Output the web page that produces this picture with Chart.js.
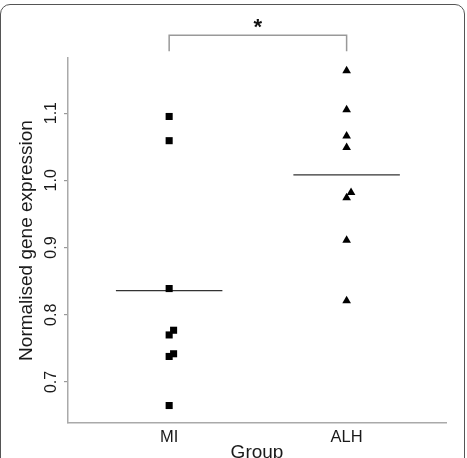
<!DOCTYPE html>
<html>
<head>
<meta charset="utf-8">
<script src="https://cdn.jsdelivr.net/npm/chart.js@4.4.1/dist/chart.umd.min.js"></script>
<style>
  html, body { margin: 0; padding: 0; background: #fff; overflow: hidden; }
  #wrap { position: relative; width: 467px; height: 458px; }
  #frame {
    position: absolute; left: 0; top: 4px; width: 463px; height: 500px;
    border: 1.5px solid #555; border-radius: 10px; pointer-events: none;
  }
</style>
</head>
<body>
<div id="wrap">
  <canvas id="chart" width="467" height="458"></canvas>
  <div id="frame"></div>
</div>
<script>
// values
const groups = ['MI', 'ALH'];
const groupX = [1, 2];
const miValues = [1.095, 1.059, 0.839, 0.777, 0.770, 0.742, 0.738, 0.665];
const miJitter = [0, 0, 0, 0.025, 0, 0.025, 0, 0];
const alhValues = [1.163, 1.105, 1.066, 1.049, 0.982, 0.974, 0.911, 0.821];
const alhJitter = [0, 0, 0, 0, 0.025, 0, 0, 0];
const groupMeans = [0.836, 1.008];
const yTickValues = [0.7, 0.8, 0.9, 1.0, 1.1];
const bracketY = [1.192, 1.216];
const significance = '*';

const FONT = "'Liberation Sans', Arial, sans-serif";
const meanHalfWidth = 0.3;

const toPoints = (vals, jitter, x) => vals.map((v, i) => ({ x: x + jitter[i], y: v }));

const meanLine = (i) => ({
    data: [
        { x: groupX[i] - meanHalfWidth, y: groupMeans[i] },
        { x: groupX[i] + meanHalfWidth, y: groupMeans[i] }
    ],
    showLine: true,
    borderColor: '#333',
    borderWidth: 1.2,
    pointRadius: 0
});

// asterisk above the bracket
const starPlugin = {
    id: 'star',
    afterDatasetsDraw(chart) {
        const { ctx, scales: { x, y } } = chart;
        ctx.save();
        ctx.fillStyle = '#111';
        ctx.font = 'bold 22px ' + FONT;
        ctx.textAlign = 'center';
        ctx.textBaseline = 'alphabetic';
        ctx.fillText(significance, x.getPixelForValue((groupX[0] + groupX[1]) / 2), y.getPixelForValue(bracketY[1]) - 1);
        ctx.restore();
    }
};

const ctx = document.getElementById('chart').getContext('2d');
const chart = new Chart(ctx, {
    type: 'scatter',
    data: {
        datasets: [
            {
                data: toPoints(miValues, miJitter, groupX[0]),
                pointStyle: 'rect',
                pointRadius: 5,
                pointBorderWidth: 0,
                backgroundColor: '#000'
            },
            {
                data: toPoints(alhValues, alhJitter, groupX[1]),
                pointStyle: 'triangle',
                pointRadius: 5,
                pointBorderWidth: 0,
                backgroundColor: '#000'
            },
            meanLine(0),
            meanLine(1),
            {
                data: [
                    { x: groupX[0], y: bracketY[0] },
                    { x: groupX[0], y: bracketY[1] },
                    { x: groupX[1], y: bracketY[1] },
                    { x: groupX[1], y: bracketY[0] }
                ],
                showLine: true,
                borderColor: '#999',
                borderWidth: 1.5,
                pointRadius: 0,
                clip: false
            }
        ]
    },
    options: {
        responsive: false,
        animation: false,
        layout: { padding: { left: 0, top: 58, right: 21, bottom: 0 } },
        plugins: {
            legend: { display: false },
            tooltip: { enabled: false }
        },
        scales: {
            x: {
                type: 'linear',
                min: 0.43,
                max: 2.56,
                afterBuildTicks: (scale) => { scale.ticks = groupX.map(v => ({ value: v })); },
                afterFit: (scale) => { scale.height = 35; },
                grid: { display: false },
                border: { display: true, color: '#aaa', width: 1.5 },
                ticks: {
                    color: '#1a1a1a',
                    padding: -3,
                    font: { family: FONT, size: 16.5 },
                    callback: (value) => groups[groupX.indexOf(value)]
                },
                title: {
                    display: true,
                    text: 'Group',
                    color: '#1a1a1a',
                    font: { family: FONT, size: 19 },
                    padding: { top: 0, bottom: -6 }
                }
            },
            y: {
                min: 0.639,
                max: 1.182,
                afterBuildTicks: (scale) => { scale.ticks = yTickValues.map(v => ({ value: v })); },
                afterFit: (scale) => { scale.width = 68; },
                grid: {
                    drawOnChartArea: false,
                    drawTicks: true,
                    tickLength: 4,
                    lineWidth: 1.2,
                    color: '#999'
                },
                border: { display: true, color: '#aaa', width: 1.5 },
                ticks: {
                    color: '#1a1a1a',
                    padding: 1,
                    minRotation: 90,
                    maxRotation: 90,
                    crossAlign: 'center',
                    font: { family: FONT, size: 16 },
                    callback: (value) => value.toFixed(1)
                },
                title: {
                    display: true,
                    text: 'Normalised gene expression',
                    color: '#1a1a1a',
                    font: { family: FONT, size: 19 },
                    padding: { top: 15, bottom: 0 }
                }
            }
        }
    },
    plugins: [starPlugin]
});
</script>
</body>
</html>
